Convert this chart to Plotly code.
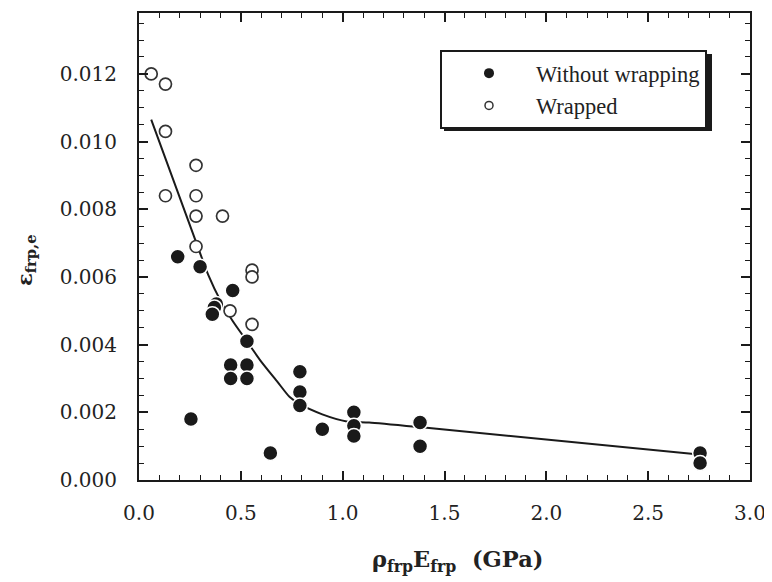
import plotly.graph_objects as go

# Data
wrapped_x = [0.06, 0.13, 0.13, 0.13, 0.28, 0.28, 0.28, 0.28, 0.41, 0.555, 0.555, 0.447, 0.555]
wrapped_y = [0.0120, 0.0117, 0.0103, 0.0084, 0.0093, 0.0084, 0.0078, 0.0069, 0.0078, 0.0062, 0.0060, 0.0050, 0.0046]

unwrapped_x = [0.19, 0.30, 0.46, 0.38, 0.37, 0.36, 0.53, 0.45, 0.45, 0.53, 0.53, 0.255, 0.645,
               0.79, 0.79, 0.79, 0.90, 1.055, 1.055, 1.055, 1.38, 1.38, 2.755, 2.755]
unwrapped_y = [0.0066, 0.0063, 0.0056, 0.0052, 0.0051, 0.0049, 0.0041, 0.0034, 0.0030, 0.0034, 0.0030, 0.0018, 0.0008,
               0.0032, 0.0026, 0.0022, 0.0015, 0.0020, 0.0016, 0.0013, 0.0017, 0.0010, 0.0008, 0.0005]

fit_x = [0.06, 0.27, 0.34, 0.40, 0.46, 0.53, 0.60, 0.68, 0.74, 0.79, 0.90, 1.02, 1.13, 1.40, 2.75]
fit_y = [0.01065, 0.0072, 0.00606, 0.0053, 0.0047, 0.0041, 0.0035, 0.0029, 0.00245, 0.00224, 0.00194,
         0.00173, 0.0017, 0.00155, 0.00075]

x_ticks = [0.0, 0.5, 1.0, 1.5, 2.0, 2.5, 3.0]
x_tick_labels = ["0.0", "0.5", "1.0", "1.5", "2.0", "2.5", "3.0"]
y_ticks = [0.000, 0.002, 0.004, 0.006, 0.008, 0.010, 0.012]
y_tick_labels = ["0.000", "0.002", "0.004", "0.006", "0.008", "0.010", "0.012"]

INK = "#1a1a1a"
TXT = "#222222"
SERIF = "Liberation Serif"
WIDE = "DejaVu Serif"

# page is rendered with an 8px body margin, so the figure is 8px smaller than the window
W, H = 764, 574
L, R, T, B = 131, 22, 5, 102
PW, PH = W - L - R, H - T - B          # plot area size (611 x 467)
PX0, PY1 = 139, 480                    # plot-area left / bottom in page pixels


def px(x):
    return (x - PX0) / PW


def py(y):
    return (PY1 - y) / PH


fig = go.Figure()
fig.add_trace(go.Scatter(x=fit_x, y=fit_y, mode="lines", showlegend=False, hoverinfo="skip",
                         line=dict(color=INK, width=2, shape="spline", smoothing=0.6)))
fig.add_trace(go.Scatter(x=unwrapped_x, y=unwrapped_y, mode="markers", showlegend=False,
                         marker=dict(symbol="circle", size=15, color=INK, line=dict(color="white", width=1.5))))
fig.add_trace(go.Scatter(x=wrapped_x, y=wrapped_y, mode="markers", showlegend=False,
                         marker=dict(symbol="circle", size=12, color="white", line=dict(color="#333", width=1.7))))
# legend entries (smaller symbols, as in the reference legend)
fig.add_trace(go.Scatter(x=[None], y=[None], mode="markers", name="Without wrapping",
                         marker=dict(symbol="circle", size=10, color=INK)))
fig.add_trace(go.Scatter(x=[None], y=[None], mode="markers", name="Wrapped",
                         marker=dict(symbol="circle", size=8, color="white", line=dict(color="#333", width=1.5))))

axis_common = dict(showgrid=False, zeroline=False, showline=True, linecolor=INK, linewidth=2,
                   mirror="allticks", ticks="inside", ticklen=9, tickwidth=1.5, tickcolor=INK,
                   tickfont=dict(family=WIDE, size=20, color=TXT))

fig.update_xaxes(range=[0, 3.0], tickvals=x_ticks, ticktext=x_tick_labels,
                 minor=dict(dtick=0.1, ticks="inside", ticklen=5, tickcolor=INK, tickwidth=1.2),
                 ticklabelstandoff=14, **axis_common)
fig.update_yaxes(range=[0, 0.0138], tickvals=y_ticks, ticktext=y_tick_labels,
                 minor=dict(dtick=0.0005, ticks="inside", ticklen=5, tickcolor=INK, tickwidth=1.2),
                 ticklabelstandoff=16, **axis_common)

# axis titles
fig.add_annotation(text="<b>ε<sub>frp,e</sub></b>", xref="paper", yref="paper",
                   x=px(25), y=py(260), xanchor="center", yanchor="middle",
                   textangle=-90, showarrow=False,
                   font=dict(family=WIDE, size=21, color=TXT))
fig.add_annotation(text="<b>ρ<sub>frp</sub>E<sub>frp</sub>\u00a0\u00a0(GPa)</b>", xref="paper", yref="paper",
                   x=px(457), y=py(561), xanchor="center", yanchor="middle", showarrow=False,
                   font=dict(family=WIDE, size=22.5, color=TXT))

# legend drop shadow
fig.add_shape(type="rect", xref="paper", yref="paper",
              x0=px(444), x1=px(712), y0=py(131), y1=py(54),
              fillcolor=INK, line=dict(width=0), layer="above")

fig.update_layout(
    width=W, height=H,
    margin=dict(l=L, r=R, t=T, b=B, autoexpand=False),
    paper_bgcolor="white", plot_bgcolor="white",
    legend=dict(x=px(440), y=py(50), xanchor="left", yanchor="top",
                bgcolor="white", bordercolor=INK, borderwidth=2,
                font=dict(family=SERIF, size=22.5, color=TXT),
                itemwidth=84, tracegroupgap=0),
)

fig.write_html("out.html")
